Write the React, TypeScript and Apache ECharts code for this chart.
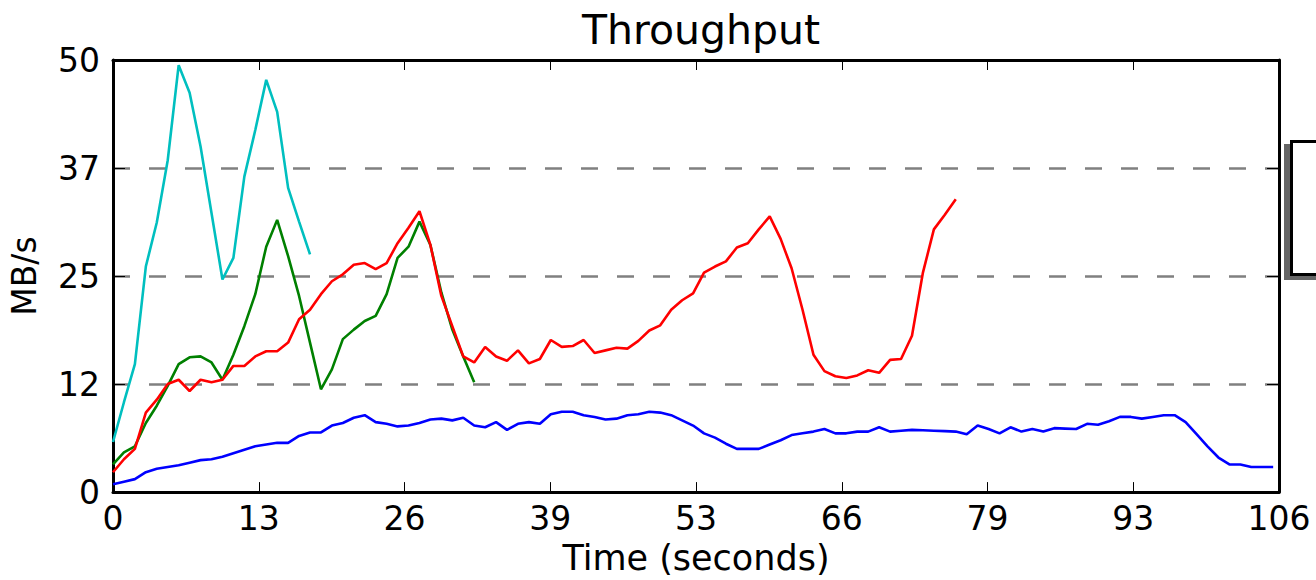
import React, { useEffect, useRef } from "react";
import * as echarts from "echarts";

// Sample period of the recorded throughput (seconds per sample)
const SAMPLE_PERIOD = 0.995;

const xTickLabels = ["0", "13", "26", "39", "53", "66", "79", "93", "106"];
const yTickLabels = ["0", "12", "25", "37", "50"];

const blueValues = [
  0.9, 1.2, 1.5, 2.3, 2.7, 2.9, 3.1, 3.4, 3.7, 3.8, 4.1, 4.5, 4.9, 5.3, 5.5, 5.7, 5.7, 6.5, 6.9, 6.9,
  7.7, 8.0, 8.6, 8.9, 8.1, 7.9, 7.6, 7.7, 8.0, 8.4, 8.5, 8.3, 8.6, 7.7, 7.5, 8.1, 7.2, 7.9, 8.1, 7.9,
  9.0, 9.3, 9.3, 8.9, 8.7, 8.4, 8.5, 8.9, 9.0, 9.3, 9.2, 8.9, 8.3, 7.7, 6.8, 6.3, 5.6, 5.0, 5.0, 5.0,
  5.5, 6.0, 6.6, 6.8, 7.0, 7.3, 6.8, 6.8, 7.0, 7.0, 7.5, 7.0, 7.1, 7.2, 7.15, 7.1, 7.05, 7.0, 6.7, 7.7,
  7.3, 6.8, 7.5, 7.0, 7.3, 7.0, 7.4, 7.35, 7.3, 7.9, 7.8, 8.2, 8.7, 8.7, 8.5, 8.7, 8.9, 8.9, 8.1, 6.7,
  5.3, 4.0, 3.2, 3.2, 2.9, 2.9, 2.9,
];

const redValues = [
  2.3, 3.8, 5.0, 9.2, 10.7, 12.5, 13.0, 11.7, 13.0, 12.7, 13.0, 14.6, 14.6, 15.7, 16.3, 16.3, 17.3, 20.0,
  21.1, 22.9, 24.4, 25.2, 26.3, 26.5, 25.8, 26.5, 28.8, 30.6, 32.5, 28.6, 22.7, 19.2, 15.7, 15.0, 16.8,
  15.7, 15.2, 16.4, 14.9, 15.4, 17.6, 16.8, 16.9, 17.6, 16.1, 16.4, 16.7, 16.6, 17.5, 18.7, 19.3, 21.1,
  22.2, 23.0, 25.4, 26.1, 26.7, 28.3, 28.8, 30.4, 31.9, 29.3, 25.9, 21.1, 15.9, 14.0, 13.4, 13.2, 13.5,
  14.1, 13.8, 15.3, 15.4, 18.1, 25.4, 30.4, 32.1, 33.9,
];

const greenValues = [
  3.2, 4.6, 5.3, 8.0, 10.0, 12.3, 14.8, 15.6, 15.7, 15.0, 13.0, 15.9, 19.2, 22.9, 28.4, 31.5, 27.3,
  22.7, 17.3, 11.9, 14.2, 17.7, 18.8, 19.8, 20.4, 22.9, 27.1, 28.4, 31.3, 28.6, 23.1, 18.8, 15.7, 12.7,
];

const cyanValues = [
  5.8, 10.4, 14.8, 26.1, 31.2, 38.4, 49.4, 46.2, 40.0, 32.3, 24.6, 27.1, 36.5, 41.9, 47.7, 44.0, 35.2,
  31.3, 27.5,
];

const seriesDefs = [
  { name: "blue", values: blueValues, color: "#0000ff" },
  { name: "green", values: greenValues, color: "#008000" },
  { name: "red", values: redValues, color: "#ff0000" },
  { name: "cyan", values: cyanValues, color: "#00bfbf" },
];

const FONT = "DejaVu Sans";

export default function App() {
  const ref = useRef<HTMLDivElement>(null);

  useEffect(() => {
    if (!ref.current) return;
    const chart = echarts.init(ref.current, undefined, { renderer: "svg" });

    const xStep = 106 / (xTickLabels.length - 1);
    const yStep = 50 / (yTickLabels.length - 1);

    const xBase = {
      type: "value",
      min: 0,
      max: 106,
      interval: xStep,
      splitLine: { show: false },
    };
    const yBase = {
      type: "value",
      min: 0,
      max: 50,
      interval: yStep,
    };

    chart.setOption({
      animation: false,
      backgroundColor: "#ffffff",
      title: {
        text: "Throughput",
        left: 696,
        textAlign: "center",
        top: 4,
        textStyle: { fontFamily: FONT, fontSize: 41, fontWeight: "normal", color: "#000" },
      },
      grid: { left: 113, right: 37, top: 60, bottom: 87, containLabel: false },
      xAxis: [
        {
          ...xBase,
          position: "bottom",
          name: "Time (seconds)",
          nameLocation: "middle",
          nameGap: 46,
          nameTextStyle: { fontFamily: FONT, fontSize: 35, color: "#000" },
          axisLine: { show: true, onZero: false, lineStyle: { color: "#000", width: 3 } },
          axisTick: { show: true, inside: true, length: 10, lineStyle: { color: "#000", width: 1 } },
          axisLabel: {
            show: true,
            margin: 10,
            fontFamily: FONT,
            fontSize: 33,
            color: "#000",
            formatter: (v: number) => xTickLabels[Math.round(v / xStep)] ?? "",
          },
        },
        {
          ...xBase,
          position: "top",
          axisLine: { show: true, onZero: false, lineStyle: { color: "#000", width: 3 } },
          axisTick: { show: true, inside: true, length: 10, lineStyle: { color: "#000", width: 1 } },
          axisLabel: { show: false },
        },
      ],
      yAxis: [
        {
          ...yBase,
          position: "left",
          name: "MB/s",
          nameLocation: "middle",
          nameGap: 72,
          nameRotate: 90,
          nameTextStyle: { fontFamily: FONT, fontSize: 33, color: "#000" },
          axisLine: { show: true, onZero: false, lineStyle: { color: "#000", width: 3 } },
          axisTick: { show: true, inside: true, length: 12, lineStyle: { color: "#000", width: 1 } },
          axisLabel: {
            show: true,
            margin: 13,
            fontFamily: FONT,
            fontSize: 33,
            color: "#000",
            formatter: (v: number) => yTickLabels[Math.round(v / yStep)] ?? "",
          },
          splitLine: {
            show: true,
            showMinLine: false,
            showMaxLine: false,
            lineStyle: { color: "#808080", width: 2.5, type: [17, 19] },
          },
        },
        {
          ...yBase,
          position: "right",
          axisLine: { show: true, onZero: false, lineStyle: { color: "#000", width: 3 } },
          axisTick: { show: true, inside: true, length: 12, lineStyle: { color: "#000", width: 1 } },
          axisLabel: { show: false },
          splitLine: { show: false },
        },
      ],
      series: seriesDefs.map((s) => ({
        type: "line",
        name: s.name,
        xAxisIndex: 0,
        yAxisIndex: 0,
        showSymbol: false,
        symbol: "none",
        clip: true,
        color: s.color,
        lineStyle: { color: s.color, width: 2.6 },
        data: s.values.map((v, i) => [i * SAMPLE_PERIOD, v]),
      })),
      graphic: [
        {
          type: "rect",
          shape: { x: 1284, y: 144, width: 200, height: 136 },
          style: { fill: "#666666" },
          z: 10,
        },
        {
          type: "rect",
          shape: { x: 1291.5, y: 141.5, width: 200, height: 133 },
          style: { fill: "#ffffff", stroke: "#000000", lineWidth: 3 },
          z: 11,
        },
      ],
    });

    return () => chart.dispose();
  }, []);

  return (
    <div
      ref={ref}
      style={{ position: "fixed", left: 0, top: 0, width: 1316, height: 580, background: "#fff" }}
    />
  );
}
